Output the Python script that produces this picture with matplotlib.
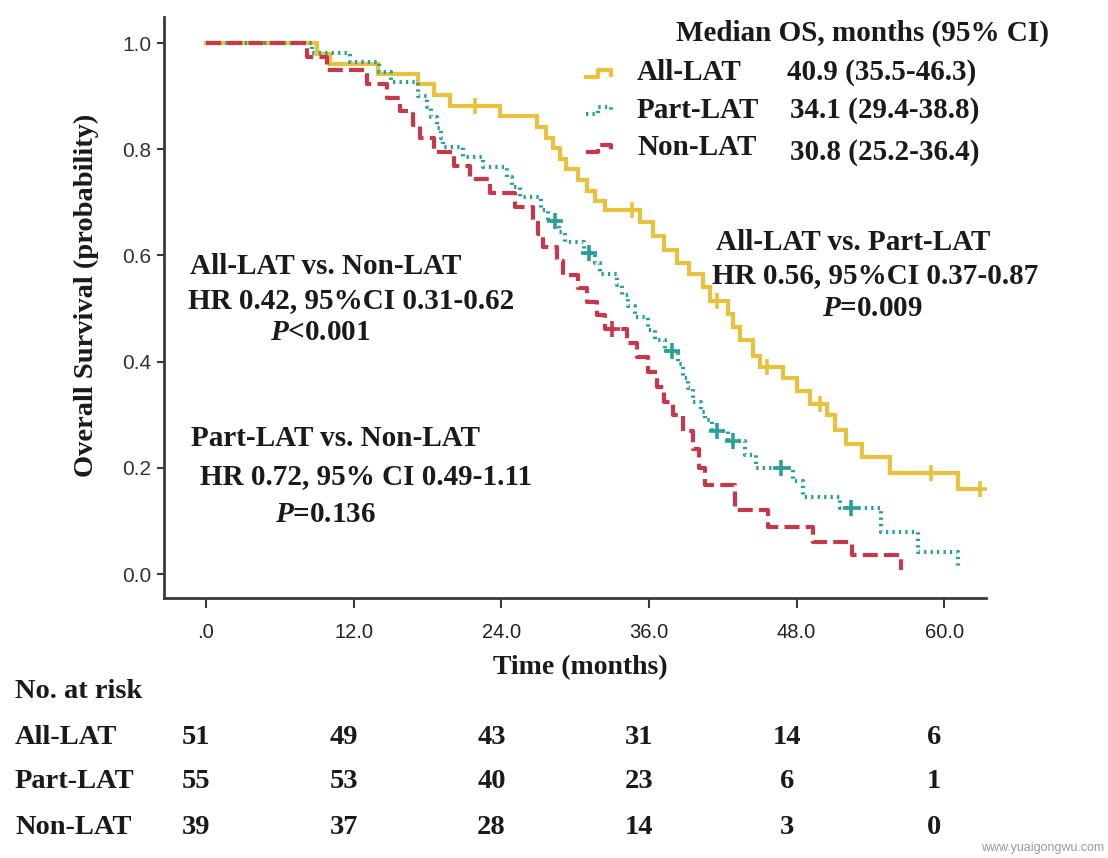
import numpy as np
import matplotlib
matplotlib.use("Agg")
import matplotlib.pyplot as plt
from matplotlib.lines import Line2D
from matplotlib import transforms

plt.rcParams["mathtext.fontset"] = "custom"
plt.rcParams["mathtext.it"] = "Liberation Serif:bold:italic"
plt.rcParams["mathtext.rm"] = "Liberation Serif:bold"

# ---------------- data ----------------
groups = ["All-LAT", "Part-LAT", "Non-LAT"]

all_t = [0, 9.0, 10.1, 14.0, 17.2, 18.5, 19.8, 23.9, 26.9, 27.6, 28.2, 28.8, 29.3, 30.2,
         31.0, 31.6, 32.4, 35.3, 36.3, 37.2, 38.3, 39.3, 40.4, 41.0, 42.4, 42.8, 43.4,
         44.5, 45.0, 46.9, 48.0, 49.1, 50.5, 51.1, 52.0, 53.3, 55.6, 61.1, 62.9]
all_s = [1.0, 0.980, 0.961, 0.941, 0.922, 0.902, 0.882, 0.862, 0.842, 0.822, 0.802, 0.782,
         0.762, 0.742, 0.722, 0.702, 0.685, 0.663, 0.636, 0.610, 0.585, 0.565, 0.540, 0.515,
         0.490, 0.465, 0.440, 0.410, 0.390, 0.370, 0.345, 0.320, 0.300, 0.272, 0.245, 0.220,
         0.190, 0.160, 0.160]
all_cens = [21.9, 34.6, 41.5, 45.6, 49.9, 58.9, 62.9]

part_t = [0, 8.6, 11.7, 14.1, 15.0, 17.2, 18.0, 18.3, 18.8, 19.1, 19.3, 20.9, 22.5, 24.5,
          24.9, 25.5, 27.2, 27.8, 28.7, 29.2, 30.7, 31.6, 32.0, 33.4, 33.8, 34.3, 34.9,
          35.9, 36.5, 37.3, 38.4, 38.8, 39.2, 39.6, 40.2, 40.6, 41.1, 42.4, 43.8, 44.7,
          47.7, 48.5, 51.5, 54.9, 57.9, 61.1]
part_s = [1.0, 0.982, 0.964, 0.945, 0.927, 0.900, 0.880, 0.860, 0.840, 0.822, 0.804, 0.785,
          0.766, 0.747, 0.729, 0.710, 0.685, 0.665, 0.645, 0.625, 0.605, 0.585, 0.565,
          0.545, 0.525, 0.505, 0.485, 0.460, 0.440, 0.420, 0.395, 0.370, 0.350, 0.325,
          0.305, 0.290, 0.270, 0.250, 0.225, 0.200, 0.175, 0.145, 0.125, 0.079, 0.041, 0.013]
part_cens = [28.4, 31.1, 37.9, 41.5, 42.8, 46.7, 52.4]

non_t = [0, 8.2, 9.8, 13.1, 14.7, 15.8, 16.8, 17.4, 18.5, 20.2, 21.5, 23.1, 25.1, 26.6,
         27.0, 27.4, 28.5, 29.0, 30.2, 31.0, 31.8, 32.4, 34.2, 35.0, 35.9, 36.7, 37.2,
         38.0, 38.8, 39.6, 40.1, 40.6, 43.0, 45.7, 49.3, 52.5, 56.5]
non_s = [1.0, 0.974, 0.949, 0.923, 0.897, 0.872, 0.846, 0.821, 0.795, 0.769, 0.744, 0.718,
         0.692, 0.667, 0.641, 0.615, 0.590, 0.564, 0.538, 0.513, 0.487, 0.462, 0.435,
         0.408, 0.380, 0.352, 0.325, 0.300, 0.270, 0.235, 0.200, 0.168, 0.120, 0.088,
         0.060, 0.036, 0.008]
non_cens = [33.0]

x_ticks = [0, 12, 24, 36, 48, 60]
x_tick_labels = [".0", "12.0", "24.0", "36.0", "48.0", "60.0"]
y_ticks = [0.0, 0.2, 0.4, 0.6, 0.8, 1.0]
y_tick_labels = ["0.0", "0.2", "0.4", "0.6", "0.8", "1.0"]

risk_all = [51, 49, 43, 31, 14, 6]
risk_part = [55, 53, 40, 23, 6, 1]
risk_non = [39, 37, 28, 14, 3, 0]

median_text = ["40.9 (35.5-46.3)", "34.1 (29.4-38.8)", "30.8 (25.2-36.4)"]

# ---------------- styling ----------------
C_ALL = "#E8C23E"
C_PART = "#2E9E98"
C_NON = "#C6394A"
SERIF = ["Liberation Serif", "DejaVu Serif"]
SANS = ["Liberation Sans", "DejaVu Sans"]
TXT = "#1a1a1a"
LS_PART = (0, (0.55, 1.0))
LS_NON = (0, (3.6, 1.5))
LW = 3.0
FS = 21

W, H = 1108, 858
fig = plt.figure(figsize=(W / 100, H / 100), dpi=100)
fig.patch.set_facecolor("white")


def fx(px):
    return px / W


def fy(py):
    return 1 - py / H


ax = fig.add_axes([fx(164), fy(598), fx(986) - fx(164), fy(17) - fy(598)])
ax.set_xlim(-3.41, 63.4)
ax.set_ylim(-0.045, 1.049)

for sp in ["top", "right"]:
    ax.spines[sp].set_visible(False)
for sp in ["left", "bottom"]:
    ax.spines[sp].set_linewidth(2.0)
    ax.spines[sp].set_color("#3a3a3a")

ax.set_xticks(x_ticks)
ax.set_xticklabels(x_tick_labels, fontfamily=SANS, fontsize=14.5, color="#222222")
ax.set_yticks(y_ticks)
ax.set_yticklabels(y_tick_labels, fontfamily=SANS, fontsize=15, color="#333333")
ax.tick_params(axis="x", direction="out", length=7, width=1.5, color="#3a3a3a", pad=11)
ax.tick_params(axis="y", direction="out", length=5, width=1.5, color="#3a3a3a", pad=4)


def surv_at(ts, ss, t):
    i = np.searchsorted(np.asarray(ts), t, side="right") - 1
    return ss[max(i, 0)]


curves = [
    (all_t, all_s, all_cens, C_ALL, dict(linestyle="-", linewidth=LW)),
    (part_t, part_s, part_cens, C_PART, dict(linestyle=LS_PART, linewidth=LW)),
    (non_t, non_s, non_cens, C_NON, dict(linestyle=LS_NON, linewidth=LW)),
]
for ts, ss, cens, col, st in curves:
    ax.step(ts, ss, where="post", color=col, solid_joinstyle="miter", **st)
    cy = [surv_at(ts, ss, c) for c in cens]
    ax.plot(cens, cy, linestyle="none", marker="+", markersize=12, markeredgewidth=2.6,
            color=col)

# ---------------- labels ----------------
fig.text(fx(86), fy(295), "Overall Survival (probability)", rotation=90, ha="center",
         va="center", fontfamily=SERIF, fontweight="bold", fontsize=20.5, color=TXT)
fig.text(fx(580), fy(668), "Time (months)", ha="center", va="center",
         fontfamily=SERIF, fontweight="bold", fontsize=20, color=TXT)

# legend block
fig.text(fx(676), fy(33), "Median OS, months (95% CI)", ha="left", va="center",
         fontfamily=SERIF, fontweight="bold", fontsize=FS, color=TXT)
leg_rows = [(73, C_ALL, "-"), (110, C_PART, LS_PART), (148, C_NON, LS_NON)]
val_x = [787, 790, 790]
val_dy = [0, 0, 4]
for (yy, col, ls), name, val, vx, dy in zip(leg_rows, groups, median_text, val_x, val_dy):
    gx = np.array([586, 598, 598, 611, 611])
    gy = np.array([yy + 4, yy + 4, yy - 3, yy - 3, yy + 2])
    fig.add_artist(Line2D(fx(gx), fy(gy), color=col, linestyle=ls, linewidth=LW,
                          transform=fig.transFigure))
    fig.text(fx(637), fy(yy), name, ha="left", va="center", fontfamily=SERIF,
             fontweight="bold", fontsize=FS, color=TXT)
    fig.text(fx(vx), fy(yy + dy), val, ha="left", va="center", fontfamily=SERIF,
             fontweight="bold", fontsize=FS, color=TXT)


# comparison annotations
def ann(x, y, s):
    fig.text(fx(x), fy(y), s, ha="left", va="center", fontfamily=SERIF, fontweight="bold",
             fontsize=FS, color=TXT)


ann(190, 267, "All-LAT vs. Non-LAT")
ann(188, 301, "HR 0.42, 95%CI 0.31-0.62")
ann(270, 333, "$\\mathit{P}$<0.001")
ann(191, 438, "Part-LAT vs. Non-LAT")
ann(200, 477, "HR 0.72, 95% CI 0.49-1.11")
ann(275, 514, "$\\mathit{P}$=0.136")
ann(716, 243, "All-LAT vs. Part-LAT")
ann(712, 276, "HR 0.56, 95%CI 0.37-0.87")
ann(822, 308, "$\\mathit{P}$=0.009")

# number at risk table
RS = 20.5
fig.text(fx(15), fy(692), "No. at risk", ha="left", va="center", fontfamily=SERIF,
         fontweight="bold", fontsize=RS, color=TXT)
blend = transforms.blended_transform_factory(ax.transData, fig.transFigure)
for yy, name, vals in zip([738, 782, 828], groups, [risk_all, risk_part, risk_non]):
    fig.text(fx(15), fy(yy), name, ha="left", va="center", fontfamily=SERIF,
             fontweight="bold", fontsize=RS, color=TXT)
    for xt, v in zip(x_ticks, vals):
        fig.text(xt - 0.8, fy(yy), str(v), ha="center", va="center", transform=blend,
                 fontfamily=SERIF, fontweight="bold", fontsize=RS, color=TXT)

fig.text(fx(1104), fy(848), "www.yuaigongwu.com", ha="right", va="center",
         fontfamily=SANS, fontsize=9, color="#9a9a9a")

fig.savefig("out.png", dpi=100, facecolor="white")
